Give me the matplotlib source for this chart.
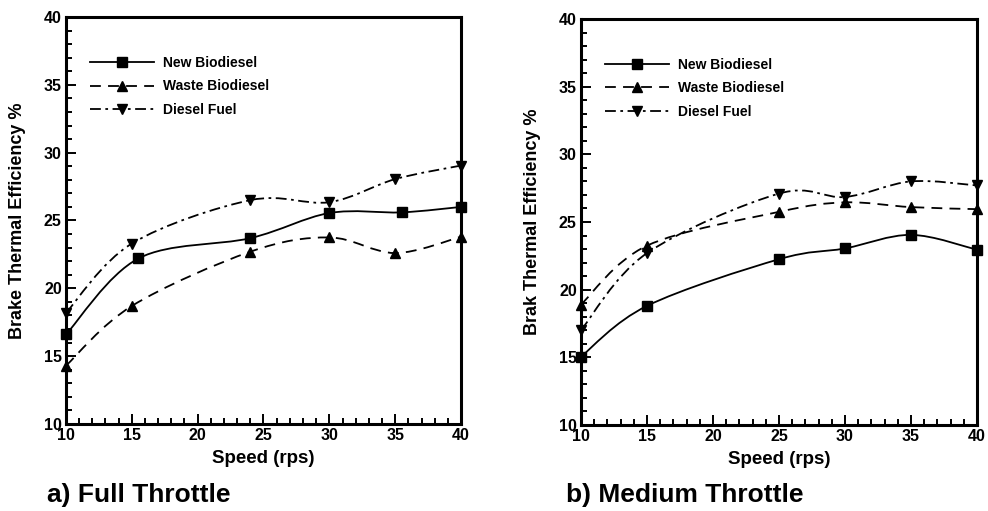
import matplotlib
matplotlib.use("Agg")
import matplotlib.pyplot as plt
import numpy as np
from matplotlib.path import Path
from matplotlib.patches import PathPatch
from matplotlib.lines import Line2D
from matplotlib.ticker import MultipleLocator

plt.rcParams['font.family'] = ['Liberation Sans', 'DejaVu Sans']
plt.rcParams['font.weight'] = 'bold'

# a) Full Throttle
full_new_x = [10, 15.5, 24, 30, 35.5, 40]
full_new_y = [16.6, 22.2, 23.7, 25.55, 25.6, 26.0]
full_waste_x = [10, 15, 24, 30, 35, 40]
full_waste_y = [14.3, 18.7, 22.7, 23.75, 22.6, 23.8]
full_diesel_x = [10, 15, 24, 30, 35, 40]
full_diesel_y = [18.2, 23.3, 26.5, 26.35, 28.05, 29.05]

# b) Medium Throttle
med_x = [10, 15, 25, 30, 35, 40]
med_new_y = [15.05, 18.8, 22.25, 23.05, 24.05, 22.95]
med_waste_y = [18.9, 23.25, 25.75, 26.45, 26.1, 25.95]
med_diesel_y = [17.0, 22.7, 27.1, 26.85, 28.0, 27.7]

labels = ['New Biodiesel', 'Waste Biodiesel', 'Diesel Fuel']
styles = [
    dict(ls='-', marker='s', ms=7.5),
    dict(ls=(0, (6, 4)), marker='^', ms=7),
    dict(ls=(0, (6, 2.5, 1.5, 2.5)), marker='v', ms=7),
]


def smooth_path(x, y):
    # Catmull-Rom through the points, drawn as cubic Bezier segments
    p = np.column_stack([x, y]).astype(float)
    ext = np.vstack([p[0], p, p[-1]])
    verts = [p[0]]
    codes = [Path.MOVETO]
    for i in range(1, len(ext) - 2):
        c1 = ext[i] + (ext[i + 1] - ext[i - 1]) / 6
        c2 = ext[i + 1] - (ext[i + 2] - ext[i]) / 6
        verts += [c1, c2, ext[i + 1]]
        codes += [Path.CURVE4] * 3
    return Path(verts, codes)


def draw_panel(ax, series, ylabel, caption, cap_x):
    for (x, y), st in zip(series, styles):
        patch = PathPatch(smooth_path(x, y), fill=False, edgecolor='black',
                          lw=1.3, linestyle=st['ls'], transform=ax.transData,
                          zorder=3)
        ax.add_patch(patch)
        ax.plot(x, y, linestyle='none', marker=st['marker'], ms=st['ms'],
                color='black', clip_on=False, zorder=5)
    ax.set_xlim(10, 40)
    ax.set_ylim(10, 40)
    ax.xaxis.set_major_locator(MultipleLocator(5))
    ax.xaxis.set_minor_locator(MultipleLocator(1))
    ax.yaxis.set_major_locator(MultipleLocator(5))
    ax.yaxis.set_minor_locator(MultipleLocator(1))
    ax.tick_params(which='both', direction='in', top=False, right=False,
                   width=1.4, labelsize=11.5, pad=3)
    ax.tick_params(which='major', length=7)
    ax.tick_params(which='minor', length=4)
    for sp in ax.spines.values():
        sp.set_linewidth(2.2)
    ax.set_xlabel('Speed (rps)', fontsize=13.5, fontweight='bold')
    ax.xaxis.set_label_coords(0.5, -0.065)
    ax.set_ylabel(ylabel, fontsize=13, fontweight='bold')
    ax.yaxis.set_label_coords(-0.102, 0.5)

    handles = [Line2D([], [], color='black', lw=1.3, linestyle=st['ls'],
                      marker=st['marker'], ms=st['ms'] - 0.5) for st in styles]
    ax.legend(handles, labels, loc='upper left', bbox_to_anchor=(0.06, 0.905),
              frameon=False, fontsize=10, handlelength=4.6,
              handletextpad=0.7, labelspacing=0.7, borderpad=0,
              borderaxespad=0, numpoints=1)
    ax.figure.text(cap_x, 0.018, caption, fontsize=19, fontweight='bold',
                   ha='left', va='baseline')


fig = plt.figure(figsize=(9.88, 5.11), dpi=100)
ax1 = fig.add_axes([0.0668, 0.1703, 0.3998, 0.7964])
ax2 = fig.add_axes([0.588, 0.1683, 0.4009, 0.7945])

draw_panel(ax1, [(full_new_x, full_new_y), (full_waste_x, full_waste_y),
                 (full_diesel_x, full_diesel_y)],
           'Brake Thermal Efficiency %', 'a) Full Throttle', 0.048)
draw_panel(ax2, [(med_x, med_new_y), (med_x, med_waste_y),
                 (med_x, med_diesel_y)],
           'Brak Thermal Efficiency %', 'b) Medium Throttle', 0.573)

fig.savefig('out.png', dpi=100)
